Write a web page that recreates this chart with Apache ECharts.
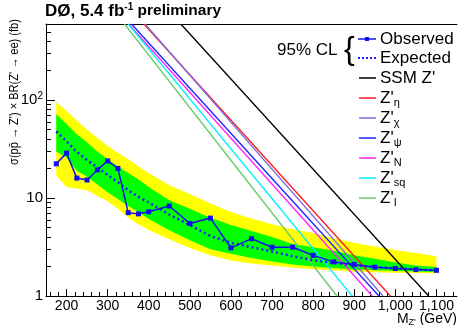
<!DOCTYPE html>
<html>
<head>
<meta charset="utf-8">
<script src="https://cdn.jsdelivr.net/npm/echarts@6/dist/echarts.min.js"></script>
<style>html,body{margin:0;padding:0;background:#fff}#c{width:458px;height:325px}</style>
</head>
<body>
<div id="c"></div>
<script>
// ---- data ----
const masses   = [175,200,225,250,275,300,325,350,375,400,450,500,550,600,650,700,750,800,850,900,950,1000,1050,1100];
const observed = [22.4,28.8,16.0,15.3,19.4,24.0,20.1,7.1,6.9,7.25,8.3,5.5,6.25,3.1,3.85,3.15,3.15,2.6,2.23,2.1,1.97,1.91,1.86,1.83];
const expected = [48,38,29.5,24.5,20.5,17.2,14.5,12.0,10.3,9.0,6.8,5.3,4.1,3.5,3.15,2.85,2.55,2.32,2.18,2.06,1.98,1.92,1.87,1.83];
const band1Up  = [72,57,45,37,30,25,21,18,15.5,13,9.5,7.8,6.3,5.3,4.6,4.0,3.4,3.15,2.9,2.6,2.4,2.2,2.05,1.98];
const band1Dn  = [30,26,19,16.5,13.8,11.5,9.8,8.3,7.2,6.1,4.7,3.7,3.0,2.7,2.45,2.25,2.1,2.0,1.93,1.87,1.83,1.80,1.78,1.76];
const band2Up  = [96,78,62,50,41,34,29,25,21,18,13.5,11,8.8,7.2,6.2,5.4,4.8,4.4,3.9,3.5,3.2,2.95,2.75,2.55];
const band2Dn  = [17,13,12.5,12,10.5,9.3,7.8,6.3,5.4,4.7,3.8,3.1,2.6,2.3,2.15,2.05,1.95,1.88,1.82,1.78,1.75,1.73,1.72,1.70];

// theory curves: [mass, sigma*BR] end points (straight on log scale)
const ssmMass = [478, 1081], ssmXsec = [600, 1];
const etaMass = [388, 988],  etaXsec = [600, 1];
const chiMass = [391, 970],  chiXsec = [600, 1];
const psiMass = [358, 960],  psiXsec = [600, 1];
const nMass   = [351, 944],  nXsec   = [600, 1];
const sqMass  = [350, 895],  sqXsec  = [600, 1];
const iMass   = [341, 858],  iXsec   = [600, 1];

const xMajor = [200,300,400,500,600,700,800,900,1000,1100];
const xMinor = [];
for (let v = 160; v <= 1140; v += 20) if (v % 100 !== 0) xMinor.push(v);
const yMajor = [1,10,100];
const yMinor = [2,3,4,5,6,7,8,9,20,30,40,50,60,70,80,90,200,300,400,500,600];

const FONT = 'Liberation Sans, Arial, Helvetica, sans-serif';
const zip = (a,b) => a.map((v,i)=>[v,b[i]]);

function theory(name, m, s, color) {
  return {name, type:'line', data: zip(m,s), showSymbol:false, symbol:'none',
    lineStyle:{color, width:1.3}, z:5, silent:true, clip:true};
}

const chart = echarts.init(document.getElementById('c'), null, {renderer:'canvas'});
chart.setOption({
  animation:false,
  backgroundColor:'#fff',
  grid:{left:46, right:1, top:24, bottom:29, show:false},
  xAxis:[{
    type:'value', min:150, max:1150,
    axisLine:{show:true, onZero:false, lineStyle:{color:'#000', width:1}},
    axisTick:{inside:true, length:7, customValues:xMajor, lineStyle:{color:'#000'}},
    axisLabel:{customValues:xMajor, color:'#000', fontSize:14, fontFamily:FONT, margin:3},
    splitLine:{show:false}
  },{
    type:'value', min:150, max:1150, position:'bottom',
    axisLine:{show:false},
    axisTick:{inside:true, length:4, customValues:xMinor, lineStyle:{color:'#000'}},
    axisLabel:{show:false}, splitLine:{show:false}
  },{
    type:'value', min:150, max:1150, position:'top',
    axisLine:{show:true, onZero:false, lineStyle:{color:'#000', width:1}},
    axisTick:{show:false}, axisLabel:{show:false}, splitLine:{show:false}
  }],
  yAxis:[{
    type:'log', logBase:10, min:1, max:600,
    axisLine:{show:true, lineStyle:{color:'#000', width:1}},
    axisTick:{inside:true, length:9, customValues:yMajor, lineStyle:{color:'#000'}},
    axisLabel:{customValues:yMajor, color:'#000', fontSize:15, fontFamily:FONT, margin:3,
      formatter: v => { const r = Math.round(v); return r === 100 ? '10{sup|2}' : String(r); },
      rich:{sup:{fontSize:10, fontFamily:FONT, color:'#000', verticalAlign:'top', padding:[0,0,8,0]}}},
    splitLine:{show:false}, minorTick:{show:false}
  },{
    type:'log', logBase:10, min:1, max:600, position:'left',
    axisLine:{show:false},
    axisTick:{inside:true, length:5, customValues:yMinor, lineStyle:{color:'#000'}},
    axisLabel:{show:false}, splitLine:{show:false}
  }],
  series:[
    {type:'custom', name:'bands', coordinateSystem:'cartesian2d', xAxisIndex:0, yAxisIndex:0,
     data:[[masses[0], expected[0]]], z:1, silent:true,
     renderItem:(params, api) => {
       const poly = (up, dn, fill) => {
         const pu = masses.map((m,i)=>api.coord([m, up[i]]));
         const pd = masses.map((m,i)=>api.coord([m, dn[i]])).reverse();
         return {type:'polygon', shape:{points:pu.concat(pd)}, style:{fill, stroke:null}};
       };
       return {type:'group', children:[poly(band2Up, band2Dn, '#ffff00'), poly(band1Up, band1Dn, '#00ff00')]};
     }},
    theory('SSM', ssmMass, ssmXsec, '#000000'),
    theory('eta', etaMass, etaXsec, '#ff1a1a'),
    theory('chi', chiMass, chiXsec, '#7b6fe0'),
    theory('psi', psiMass, psiXsec, '#2020ff'),
    theory('N', nMass, nXsec, '#ff20ff'),
    theory('sq', sqMass, sqXsec, '#00f0ff'),
    theory('I', iMass, iXsec, '#66cc66'),
    {name:'Expected', type:'line', data:zip(masses, expected), symbol:'none',
     lineStyle:{color:'#1a1aff', width:2.5, type:[2,3]}, z:6},
    {name:'Observed', type:'line', data:zip(masses, observed), symbol:'rect', symbolSize:5,
     itemStyle:{color:'#1010ee'}, lineStyle:{color:'#1010ee', width:1.5}, z:7}
  ],
  graphic:[
    {type:'text', left:45, top:2, style:{text:'{a|DØ, 5.4 fb}{s|-1}{b| preliminary}', fill:'#000',
      rich:{a:{fontSize:17, fontWeight:'bold', fontFamily:FONT, lineHeight:18},
            s:{fontSize:10, fontWeight:'bold', fontFamily:FONT, verticalAlign:'top', lineHeight:10},
            b:{fontSize:15.5, fontWeight:'bold', fontFamily:FONT, lineHeight:18}}}},
    {type:'text', x:14, y:92, rotation:Math.PI/2, scaleX:0.85,
     style:{text:'σ(pp̄ → Z\') × BR(Z\' → ee) (fb)', fontSize:13, fontFamily:FONT, fill:'#000', align:'center', verticalAlign:'middle'}},
    {type:'text', x:457, y:319,
     style:{text:'{a|M}{s|Z\'}{a| (GeV)}', align:'right', verticalAlign:'middle', fill:'#000',
       rich:{a:{fontSize:14, fontFamily:FONT, lineHeight:16}, s:{fontSize:9, fontFamily:FONT, verticalAlign:'bottom', lineHeight:6}}}},
    // legend
    {type:'text', x:277, y:50, style:{text:'95% CL', fontSize:17, fontFamily:FONT, fill:'#000', verticalAlign:'middle'}},
    {type:'text', x:344, y:50, style:{text:'{', fontSize:32, fontFamily:FONT, fill:'#000', verticalAlign:'middle'}},
    {type:'line', shape:{x1:358, y1:39, x2:376, y2:39}, style:{stroke:'#1010ee', lineWidth:1.5}},
    {type:'rect', shape:{x:365, y:37, width:4, height:4}, style:{fill:'#1010ee'}},
    {type:'text', x:380, y:39, style:{text:'Observed', fontSize:17, fontFamily:FONT, fill:'#000', verticalAlign:'middle'}},
    {type:'line', shape:{x1:358, y1:58, x2:376, y2:58}, style:{stroke:'#1a1aff', lineWidth:2, lineDash:[2,2]}},
    {type:'text', x:380, y:58, style:{text:'Expected', fontSize:17, fontFamily:FONT, fill:'#000', verticalAlign:'middle'}},
    ...[
      ['SSM Z\'', '', '#000000', 78],
      ['Z\'', 'η', '#ff1a1a', 98],
      ['Z\'', 'χ', '#7b6fe0', 118],
      ['Z\'', 'ψ', '#2020ff', 138],
      ['Z\'', 'N', '#ff20ff', 158],
      ['Z\'', 'sq', '#00f0ff', 178],
      ['Z\'', 'I', '#66cc66', 198]
    ].flatMap(([t, sub, col, y]) => [
      {type:'line', shape:{x1:359, y1:y, x2:376, y2:y}, style:{stroke:col, lineWidth:1.5}},
      {type:'text', x:380, y:y, style:{text: sub ? '{a|'+t+'}{s|'+sub+'}' : '{a|'+t+'}', verticalAlign:'middle', fill:'#000',
        rich:{a:{fontSize:17, fontFamily:FONT, lineHeight:20}, s:{fontSize:11, fontFamily:FONT, verticalAlign:'bottom', lineHeight:6}}}}
    ])
  ]
});
</script>
</body>
</html>
